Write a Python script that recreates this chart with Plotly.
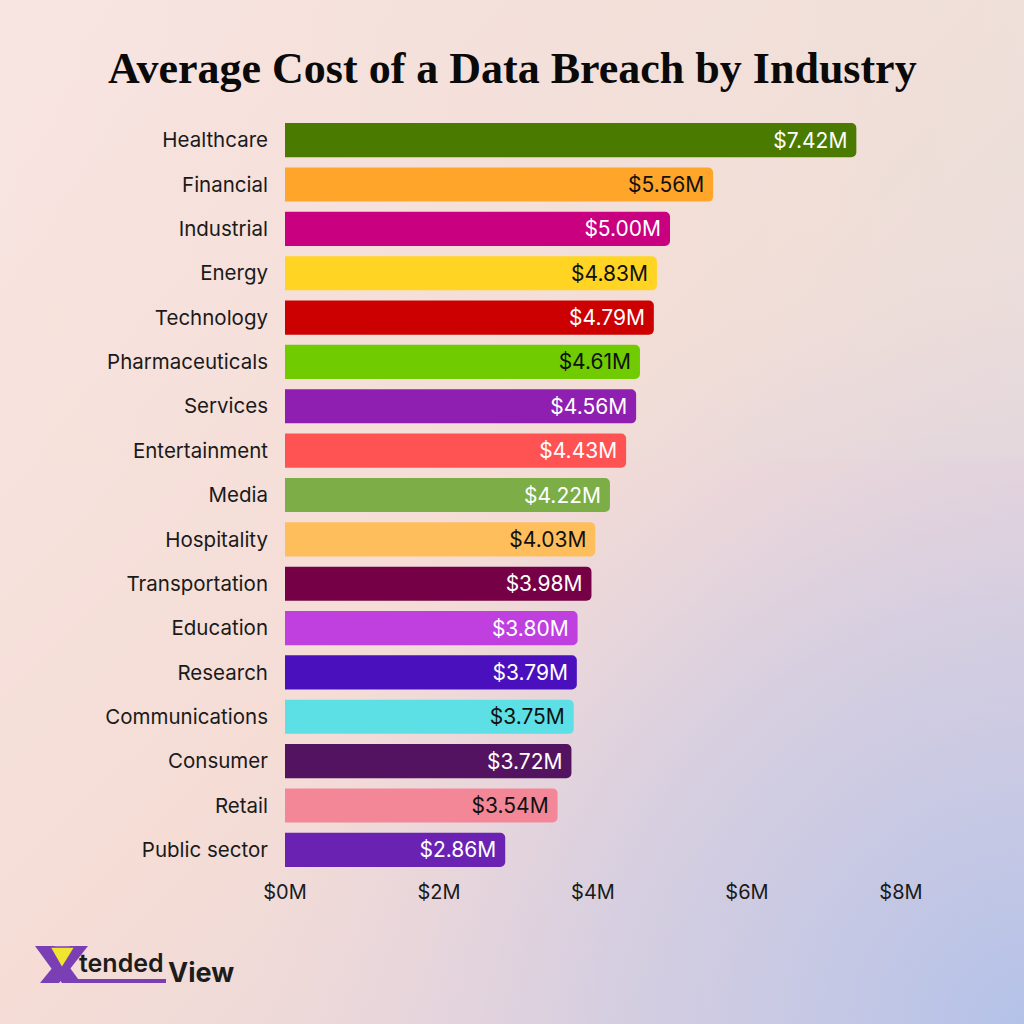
import base64
import plotly.graph_objects as go

industries = ["Healthcare", "Financial", "Industrial", "Energy", "Technology",
              "Pharmaceuticals", "Services", "Entertainment", "Media", "Hospitality",
              "Transportation", "Education", "Research", "Communications", "Consumer",
              "Retail", "Public sector"]
costs = [7.42, 5.56, 5.00, 4.83, 4.79, 4.61, 4.56, 4.43, 4.22, 4.03,
         3.98, 3.80, 3.79, 3.75, 3.72, 3.54, 2.86]
bar_colors = ["#4a7a00", "#fea52a", "#c9007f", "#ffd422", "#cc0000",
              "#70cc00", "#8e1fb0", "#ff5252", "#7cad47", "#ffbe5c",
              "#750046", "#bf40df", "#4a10be", "#5ce0e6", "#541360",
              "#f48797", "#6a22b3"]
label_colors = ["#ffffff", "#111111", "#ffffff", "#111111", "#ffffff",
                "#111111", "#ffffff", "#ffffff", "#ffffff", "#111111",
                "#ffffff", "#ffffff", "#ffffff", "#111111", "#ffffff",
                "#111111", "#ffffff"]
tick_vals = [0, 2, 4, 6, 8]
tick_text = ["$0M", "$2M", "$4M", "$6M", "$8M"]

W, H = 1024, 1024
ML, MR, MT, MB = 285, 123, 118, 152
PW, PH = W - ML - MR, H - MT - MB


def px(x):
    return (x - ML) / PW


def py(y):
    return 1 - (y - MT) / PH


svg = f"""<svg xmlns='http://www.w3.org/2000/svg' width='{W}' height='{H}'>
<defs>
<linearGradient id='g' x1='0' y1='0' x2='1' y2='1'>
<stop offset='0' stop-color='#f8e5e2'/>
<stop offset='0.5' stop-color='#f5ddd6'/>
<stop offset='1' stop-color='#dcd0e0'/>
</linearGradient>
<linearGradient id='h' x1='0' y1='0' x2='1' y2='0'>
<stop offset='0' stop-color='#f3dcd3' stop-opacity='0'/>
<stop offset='1' stop-color='#e8e2dc' stop-opacity='0.5'/>
</linearGradient>
<radialGradient id='r' cx='1' cy='1' r='0.75'>
<stop offset='0' stop-color='#b4c2e8' stop-opacity='1'/>
<stop offset='0.55' stop-color='#c8c8e4' stop-opacity='0.55'/>
<stop offset='1' stop-color='#e6d0dc' stop-opacity='0'/>
</radialGradient>
</defs>
<rect width='{W}' height='{H}' fill='url(#g)'/>
<rect width='{W}' height='{H * 0.45}' fill='url(#h)'/>
<rect width='{W}' height='{H}' fill='url(#r)'/>
</svg>"""
bg_src = "data:image/svg+xml;base64," + base64.b64encode(svg.encode()).decode()

fig = go.Figure()
fig.add_trace(go.Bar(
    x=costs, y=industries, orientation="h",
    marker=dict(color=bar_colors, cornerradius=5, line=dict(width=0)),
    text=[f"${v:.2f}M\u00a0" for v in costs],
    textposition="inside", insidetextanchor="end",
    textfont=dict(family="Inter", size=21, color=label_colors),
    hoverinfo="skip", cliponaxis=False,
))

purple = "#7b3fb5"
shapes = [
    # logo X strokes
    dict(type="path", xref="paper", yref="paper", layer="above",
         path=f"M {px(35)} {py(946)} L {px(54)} {py(946)} L {px(81)} {py(983)} L {px(62)} {py(983)} Z",
         fillcolor=purple, line=dict(width=0)),
    dict(type="path", xref="paper", yref="paper", layer="above",
         path=f"M {px(70)} {py(946)} L {px(88)} {py(946)} L {px(59)} {py(983)} L {px(40)} {py(983)} Z",
         fillcolor=purple, line=dict(width=0)),
    dict(type="path", xref="paper", yref="paper", layer="above",
         path=f"M {px(50)} {py(947)} L {px(75)} {py(947)} L {px(62)} {py(968)} Z",
         fillcolor="#f2e530", line=dict(color=purple, width=1.5)),
    dict(type="rect", xref="paper", yref="paper", layer="above",
         x0=px(66), x1=px(166), y0=py(983), y1=py(979),
         fillcolor=purple, line=dict(width=0)),
]

annotations = [
    dict(text="<b>Average Cost of a Data Breach by Industry</b>",
         xref="paper", yref="paper", x=px(512), y=py(68),
         xanchor="center", yanchor="middle", showarrow=False,
         font=dict(family="Liberation Serif", size=44, color="#0a0a0a")),
    dict(text="tended", xref="paper", yref="paper", x=px(77), y=py(963),
         xanchor="left", yanchor="middle", showarrow=False,
         font=dict(family="Inter", size=25, color="#1c1c1c", weight=600)),
    dict(text="<b>View</b>", xref="paper", yref="paper", x=px(166), y=py(972),
         xanchor="left", yanchor="middle", showarrow=False,
         font=dict(family="Inter", size=27, color="#1c1c1c")),
]

fig.update_layout(
    width=W, height=H,
    margin=dict(l=ML, r=MR, t=MT, b=MB),
    paper_bgcolor="#f5ddd6", plot_bgcolor="rgba(0,0,0,0)",
    bargap=0.23, showlegend=False,
    images=[dict(source=bg_src, xref="paper", yref="paper",
                 x=px(0), y=py(0), sizex=W / PW, sizey=H / PH,
                 xanchor="left", yanchor="top", sizing="stretch", layer="below")],
    shapes=shapes, annotations=annotations,
    xaxis=dict(range=[0, 8], tickvals=tick_vals, ticktext=tick_text,
               showgrid=False, zeroline=False, showline=False, ticks="",
               tickfont=dict(family="Inter", size=20, color="#1a1a1a"),
               ticklabelstandoff=6, fixedrange=True),
    yaxis=dict(autorange="reversed", showgrid=False, zeroline=False, showline=False,
               ticks="", tickfont=dict(family="Inter", size=20.5, color="#1a1a1a"),
               ticklabelstandoff=16, fixedrange=True),
)

fig.write_html("out.html", config={"displayModeBar": False})
